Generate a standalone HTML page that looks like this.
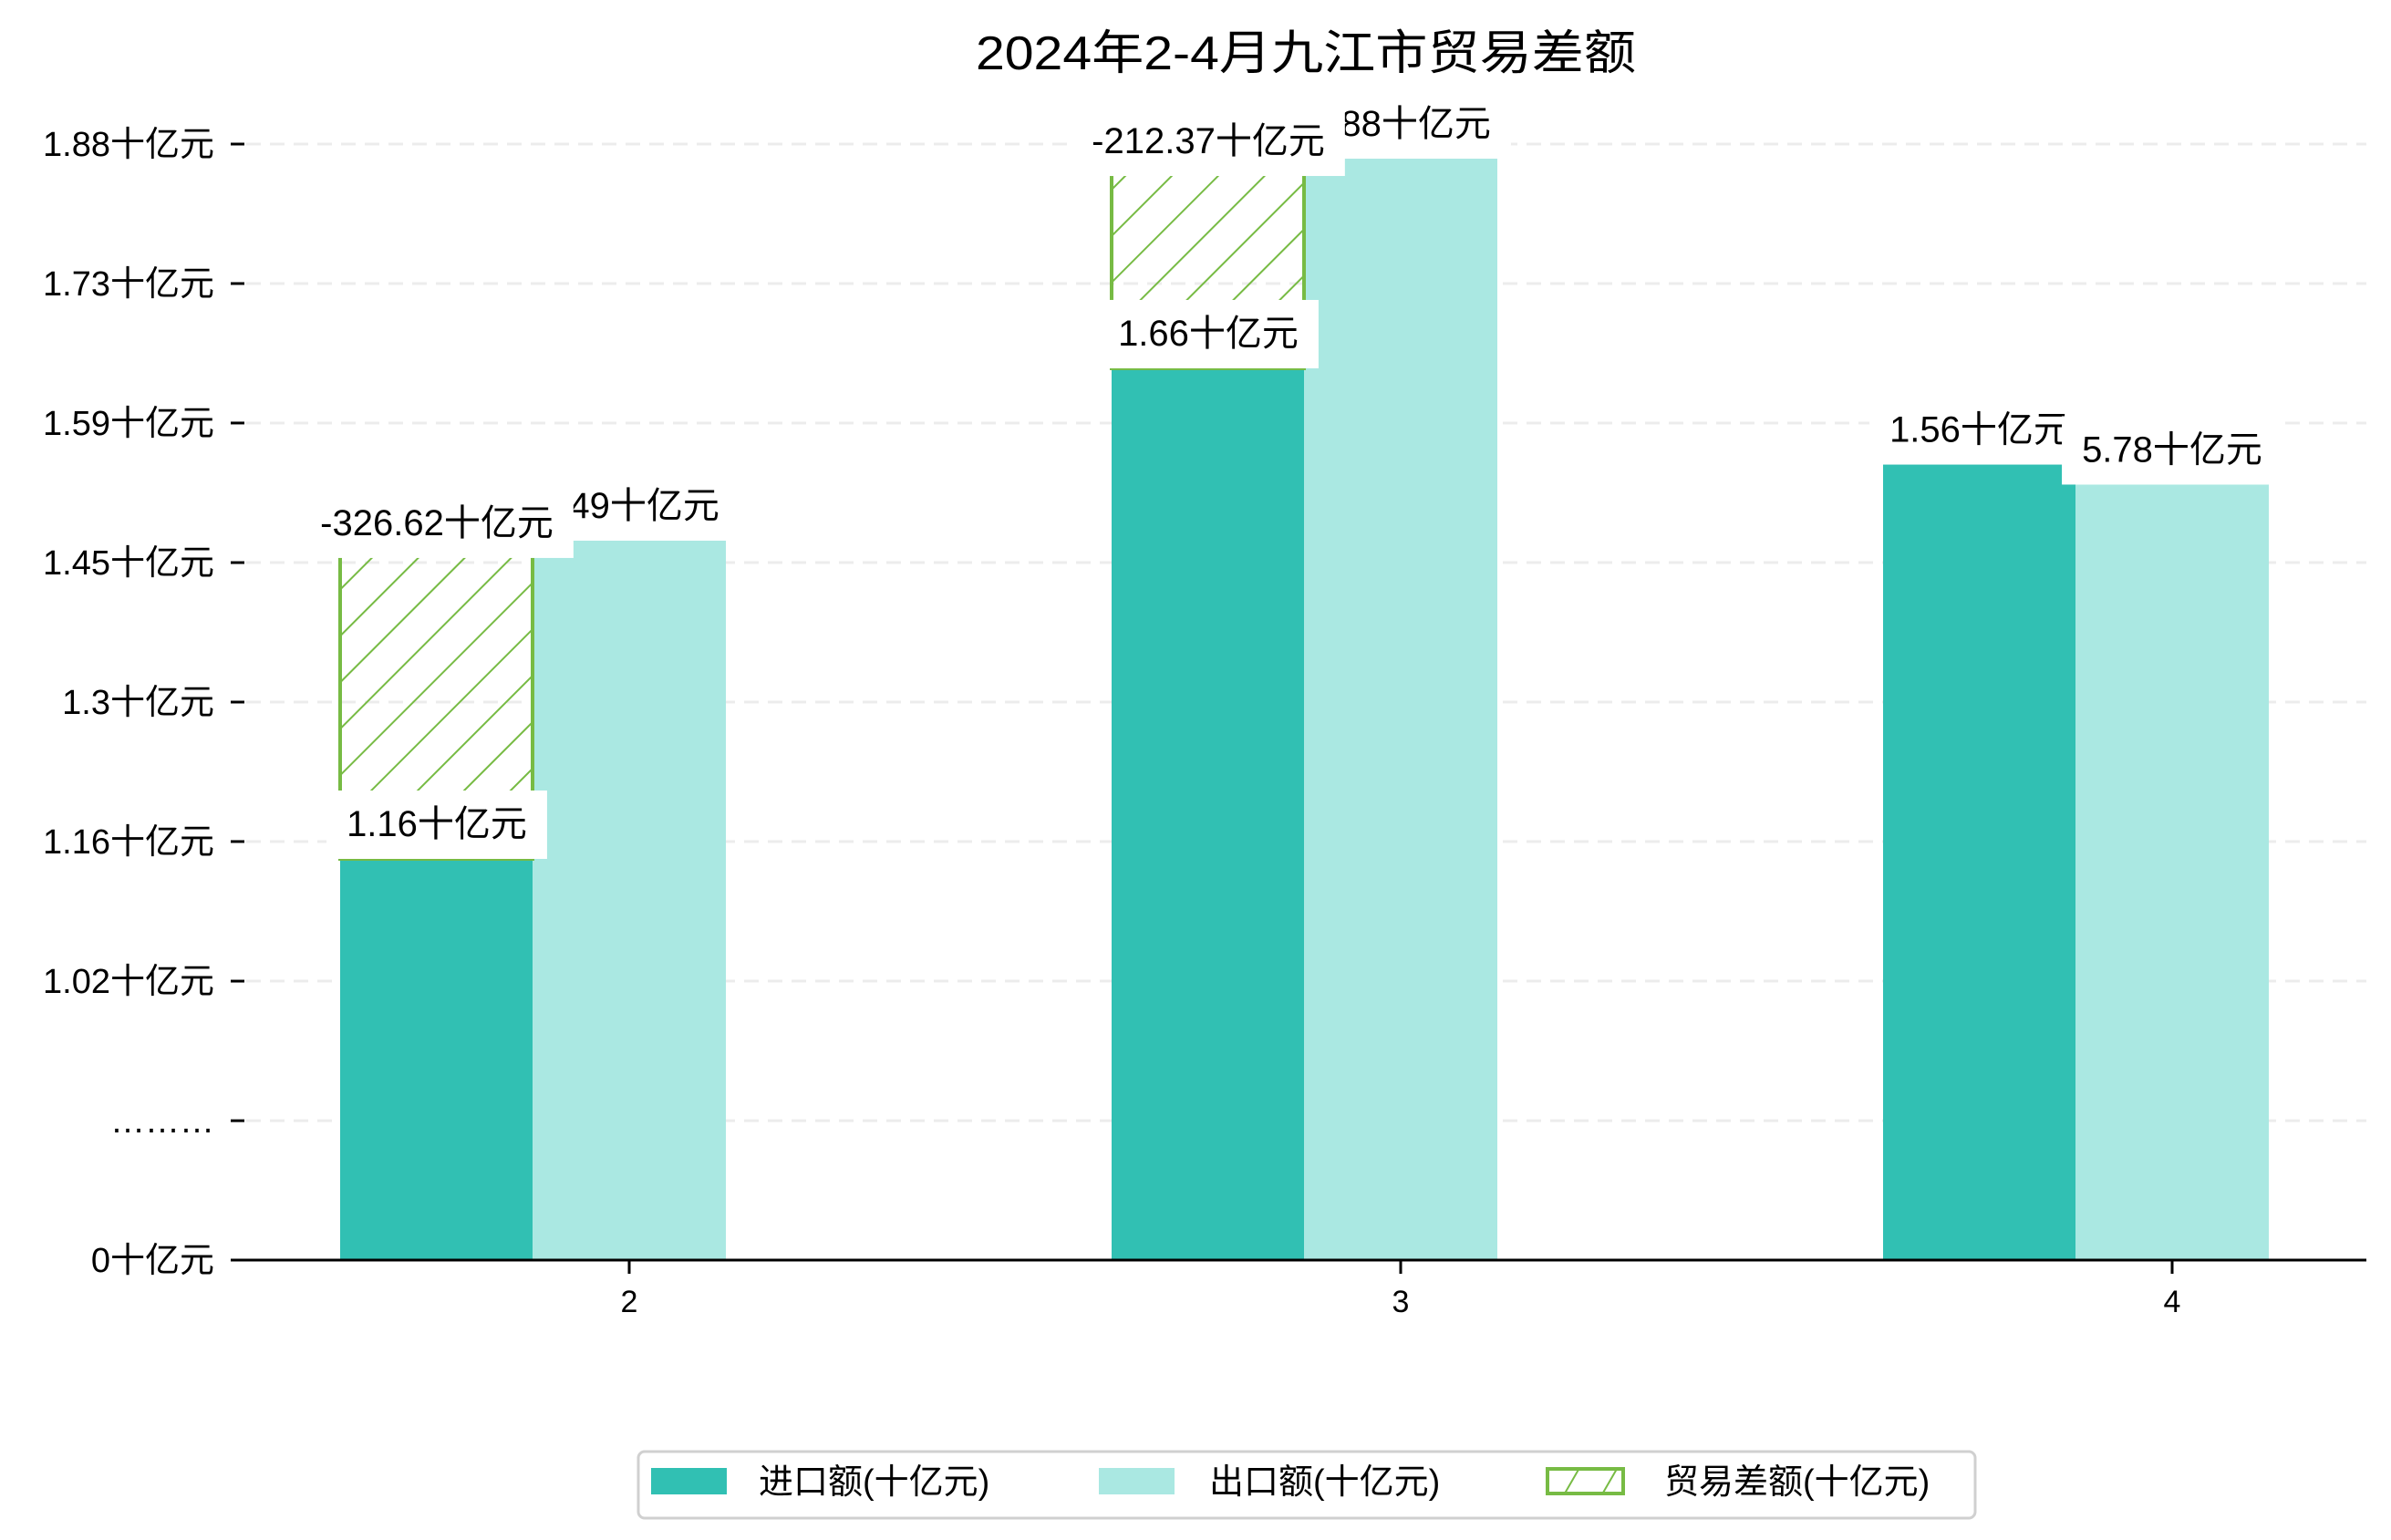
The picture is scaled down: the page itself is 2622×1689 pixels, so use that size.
<!DOCTYPE html>
<html><head><meta charset="utf-8"><style>
html,body{margin:0;padding:0;background:#fff;}
svg{display:block;font-family:"Liberation Sans","WenQuanYi Zen Hei","Noto Sans CJK SC",sans-serif;}
</style></head><body>
<svg id="chart" width="2622" height="1689" viewBox="0 0 2622 1689" xmlns="http://www.w3.org/2000/svg">
<defs>
<pattern id="hatch" patternUnits="userSpaceOnUse" width="36" height="36" patternTransform="rotate(45)">
<line x1="0" y1="0" x2="0" y2="36" stroke="#77bb44" stroke-width="4"/>
</pattern>
<pattern id="hatchLeg" patternUnits="userSpaceOnUse" width="36" height="36" patternTransform="rotate(30)">
<line x1="0" y1="0" x2="0" y2="36" stroke="#77bb44" stroke-width="4"/>
</pattern>
</defs>
<rect width="2622" height="1689" fill="#fff"/>
<text x="1432" y="76" text-anchor="middle" font-size="52" textLength="724" lengthAdjust="spacingAndGlyphs">2024年2-4月九江市贸易差额</text>
<g id="grid"></g>
<g id="bars"></g>
<g id="labels"></g>
<g id="axes"></g>
<g>
<rect x="700" y="1592" width="1466" height="73" rx="7" fill="#fff" stroke="#d0d0d0" stroke-width="3"/>
<rect x="714" y="1610" width="83" height="29" fill="#31c0b3"/>
<text x="832" y="1638" font-size="38">进口额(十亿元)</text>
<rect x="1205" y="1610" width="83" height="29" fill="#aae8e2"/>
<text x="1326" y="1638" font-size="38">出口额(十亿元)</text>
<rect x="1697" y="1611" width="83" height="27" fill="url(#hatchLeg)" stroke="#77bb44" stroke-width="4"/>
<text x="1825" y="1638" font-size="38">贸易差额(十亿元)</text>
</g>
</svg>
<script>
const categories = ["2", "3", "4"];
const importVals = [1.16, 1.6605, 1.5623];
const exportVals = [1.4847, 1.8744, 1.5419];
const importLabels = ["1.16十亿元", "1.66十亿元", "1.56十亿元"];
const exportLabels = ["1.49十亿元", "1.88十亿元", "5.78十亿元"];
const balanceLabels = ["-326.62十亿元", "-212.37十亿元", ""];
const tickVals = [1.0353, 1.1777, 1.32, 1.4623, 1.6047, 1.747, 1.8893];
const tickLabels = ["1.02十亿元", "1.16十亿元", "1.3十亿元", "1.45十亿元", "1.59十亿元", "1.73十亿元", "1.88十亿元"];

const NS = "http://www.w3.org/2000/svg";
const baseY = 1382, axL = 255, axR = 2595;
function y(v){ return 942 - (v - 1.16) * 1075; }
function x(i){ return 690 + i * 846; }
function mk(tag, attrs, parent){
  const e = document.createElementNS(NS, tag);
  for (const k in attrs) e.setAttribute(k, attrs[k]);
  parent.appendChild(e);
  return e;
}
const grid = document.getElementById('grid');
const bars = document.getElementById('bars');
const labels = document.getElementById('labels');
const axes = document.getElementById('axes');

const step = y(tickVals[0]) - y(tickVals[1]);
const yTicks = [{py: baseY, t: "0十亿元"}, {py: y(tickVals[0]) + step, t: "………"}];
tickVals.forEach((v, i) => yTicks.push({py: y(v), t: tickLabels[i]}));
yTicks.forEach((tk, i) => {
  if (i > 0) {
    const g = mk('line', {x1: 270, x2: axR, y1: tk.py, y2: tk.py, stroke: '#ececec', 'stroke-width': 3, 'stroke-dasharray': '16,10'}, grid);
    
    
  }
  const m = mk('line', {x1: 253, x2: 268, y1: tk.py, y2: tk.py, stroke: '#000', 'stroke-width': 3}, axes);
  
  
  const t = mk('text', {x: 235, y: tk.py + 13, 'text-anchor': 'end', 'font-size': 38}, axes);
  t.textContent = tk.t;
  
  
});

categories.forEach((c, i) => {
  const cx = x(i);
  const yi = y(importVals[i]), ye = y(exportVals[i]);
  const bi = mk('rect', {x: cx - 317, y: yi, width: 211, height: baseY - yi, fill: '#31c0b3'}, bars);
  
  
  const be = mk('rect', {x: cx - 106, y: ye, width: 212, height: baseY - ye, fill: '#aae8e2'}, bars);
  
  
  if (exportVals[i] > importVals[i]) {
    const bh = mk('rect', {x: cx - 317, y: ye, width: 211, height: yi - ye, fill: 'url(#hatch)', stroke: '#77bb44', 'stroke-width': 4}, bars);
    
    
  }
});

function boxLabel(txt, cxp, bottom, name){
  const g = mk('g', {}, labels);
  
  
  const r = mk('rect', {fill: '#fff'}, g);
  const t = mk('text', {x: cxp, y: bottom - 25, 'text-anchor': 'middle', 'font-size': 40}, g);
  t.textContent = txt;
  const w = t.getComputedTextLength();
  r.setAttribute('x', cxp - w / 2 - 22);
  r.setAttribute('y', bottom - 75);
  r.setAttribute('width', w + 44);
  r.setAttribute('height', 75);
}
categories.forEach((c, i) => {
  boxLabel(importLabels[i], x(i) - 211, y(importVals[i]), 'import-value-label-' + c);
});
categories.forEach((c, i) => {
  boxLabel(exportLabels[i], x(i), y(exportVals[i]), 'export-value-label-' + c);
});
categories.forEach((c, i) => {
  if (balanceLabels[i]) boxLabel(balanceLabels[i], x(i) - 211, y(exportVals[i]) + 19, 'balance-value-label-' + c);
});

const ax = mk('line', {x1: axL, x2: axR, y1: baseY, y2: baseY, stroke: '#000', 'stroke-width': 3}, axes);


categories.forEach((c, i) => {
  const m = mk('line', {x1: x(i), x2: x(i), y1: baseY, y2: baseY + 15, stroke: '#000', 'stroke-width': 3}, axes);
  
  
  const t = mk('text', {x: x(i), y: baseY + 57, 'text-anchor': 'middle', 'font-size': 34}, axes);
  t.textContent = c;
  
  
});
</script>
</body></html>
